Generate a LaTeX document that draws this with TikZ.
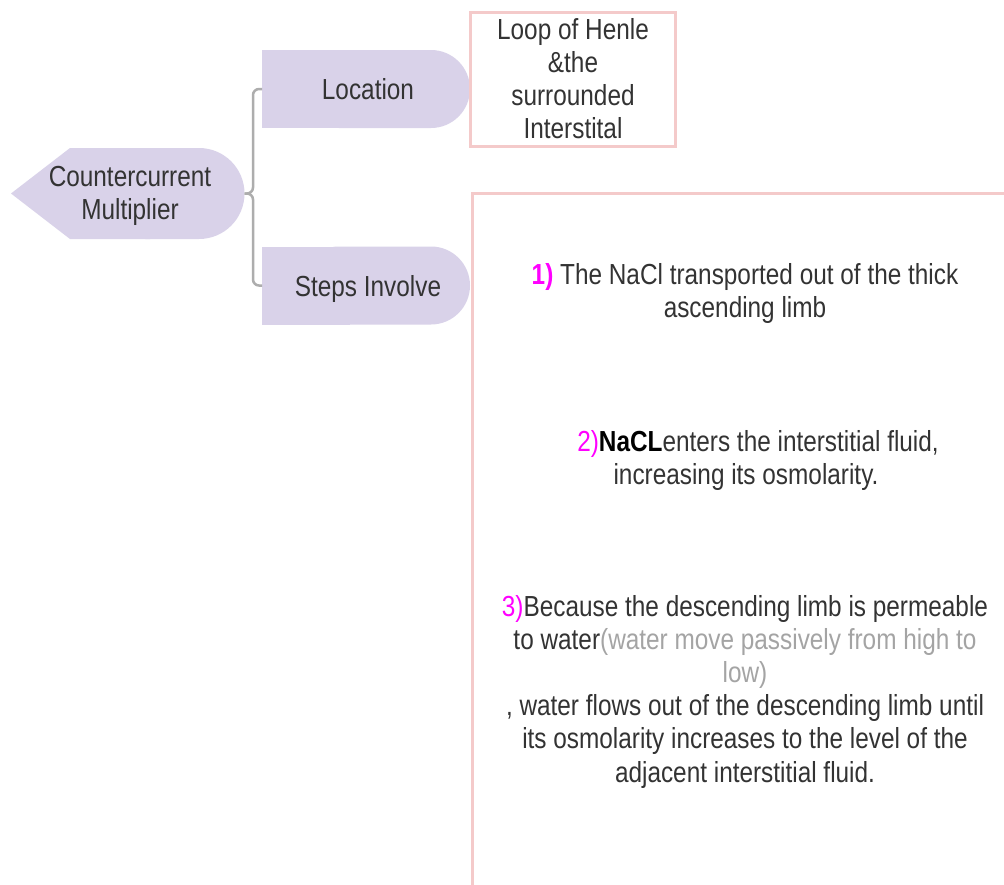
\documentclass[tikz,border=0pt]{standalone}
\usepackage{fontspec}
\newfontfamily\arf[FakeStretch=0.84]{Liberation Sans}
\definecolor{lav}{HTML}{D9D2E9}
\definecolor{pinkb}{HTML}{F4CACA}
\definecolor{txt}{HTML}{333333}
\definecolor{mag}{HTML}{FF00FF}
\definecolor{lgray}{HTML}{A4A4A4}
\definecolor{conn}{HTML}{ADADAD}
\begin{document}
\begin{tikzpicture}[x=1pt,y=-1pt,
  every node/.style={font=\arf\fontsize{29}{33}\selectfont, text=txt, inner sep=0pt, outer sep=0pt},
  shapebox/.style={minimum width=#1, draw=none},
  pinkbox/.style={draw=pinkb, line width=3pt},
  connline/.style={draw=conn, line width=2.5pt, rounded corners=6pt},
  steptext/.style={align=center, anchor=north, font=\arf\fontsize{29}{33.5}\selectfont},
  num/.style={text=mag}
]
\clip (0,0) rectangle (1004,884);
\fill[white] (0,0) rectangle (1004,884);

% invisible named shape boxes
\node[shapebox=233.5pt, minimum height=91pt] (cm) at (127.75,193.5) {};
\node[shapebox=208pt, minimum height=78pt] (loc) at (366,89) {};
\node[shapebox=208pt, minimum height=78pt] (stp) at (366,285.5) {};

% lavender shapes
\fill[lav, rounded corners=45.5pt] (100,148) rectangle (244.5,239);
\fill[lav] (11,193.5) -- (70,148) -- (150,148) -- (150,239) -- (70,239) -- cycle;
\fill[lav, rounded corners=39pt] (300,50) rectangle (470,128);
\fill[lav] (262,50) rectangle (350,128);
\fill[lav, rounded corners=39pt] (300,246.5) rectangle (470,324.5);
\fill[lav] (262,246.5) rectangle (350,324.5);

% texts of topics
\node[align=center, anchor=north] (cmT) at (130,166) {Countercurrent\\Multiplier};
\node[anchor=base] (locT) at (368,99) {Location};
\node[anchor=base] (stpT) at (368,296) {Steps Involve};

% connectors
\draw[connline] (cm.east) -- ++(8.5,0) |- (loc.west);
\draw[connline] (cm.east) -- ++(8.5,0) |- (stp.west);

% pink boxes
\node[pinkbox, minimum width=205pt, minimum height=134pt, align=center] (lbox) at (573,79)
  {Loop of Henle\\\&the\\surrounded\\Interstital};
\node[pinkbox, minimum width=640pt, minimum height=760pt, anchor=north west] (sbox) at (472,193) {};

% steps
\node[steptext] (s1) at (745,263) {\textcolor{mag}{\textbf{1)}} The NaCl transported out of the thick\\ascending limb};
\node[steptext] (s2) at (746,430) {\hspace*{24pt}\textcolor{mag}{2)}\textbf{\textcolor{black}{NaCL}}enters the interstitial fluid,\\increasing its osmolarity.};
\node[steptext, font=\arf\fontsize{29}{33.2}\selectfont] (s3) at (745,595) {\textcolor{mag}{3)}Because the descending limb is permeable\\to water\textcolor{lgray}{(water move passively from high to}\\\textcolor{lgray}{low)}\\, water flows out of the descending limb until\\its osmolarity increases to the level of the\\adjacent interstitial fluid.};
\end{tikzpicture}
\end{document}
